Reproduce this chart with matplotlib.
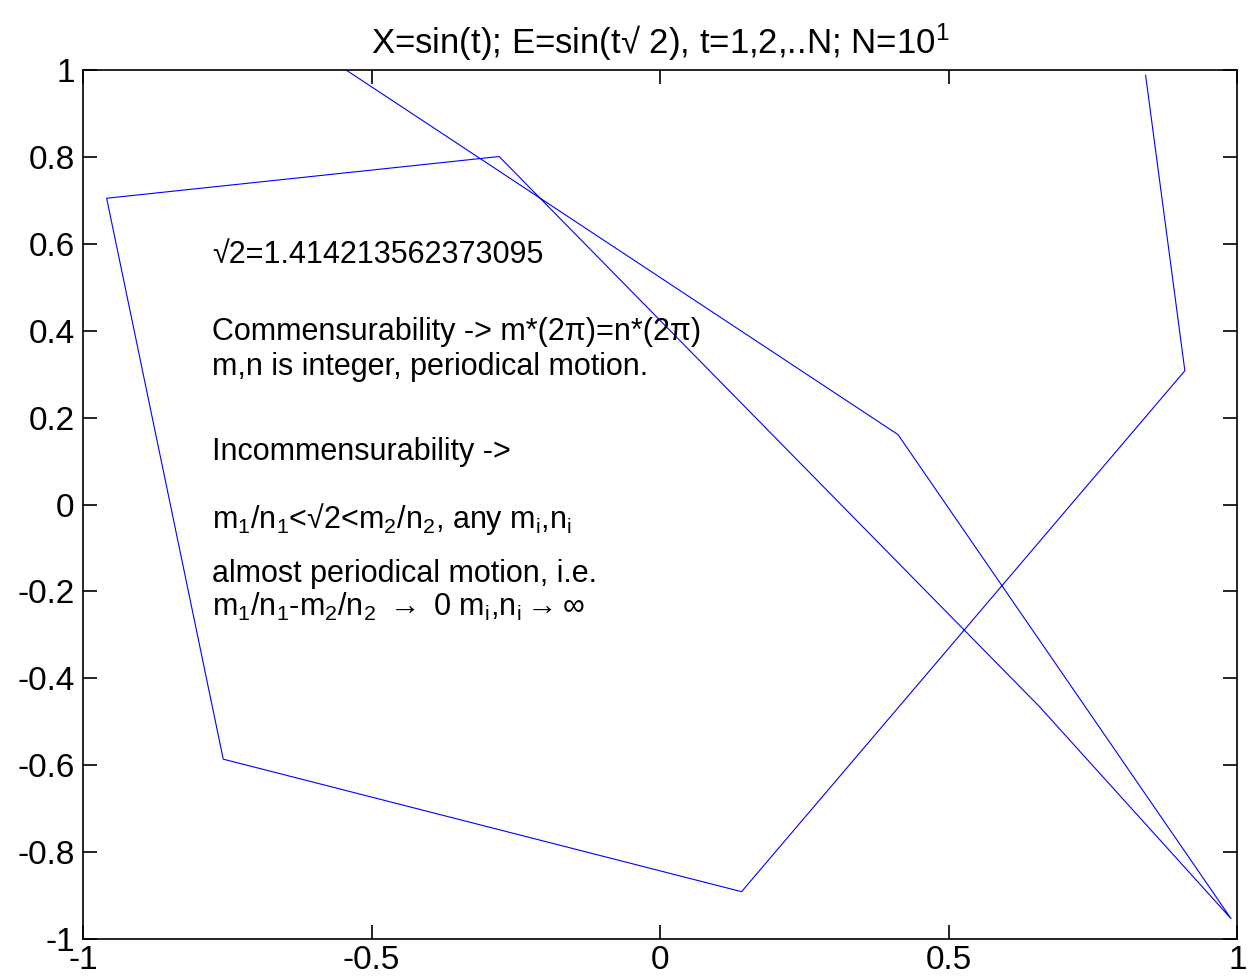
import matplotlib
matplotlib.use("Agg")
import matplotlib.pyplot as plt
from matplotlib.ticker import FixedLocator, FormatStrFormatter

plt.rcParams['font.family'] = ['Liberation Sans', 'DejaVu Sans']
plt.rcParams['mathtext.fontset'] = 'custom'
plt.rcParams['mathtext.rm'] = 'Liberation Sans'
plt.rcParams['mathtext.it'] = 'Liberation Sans'
plt.rcParams['axes.unicode_minus'] = False

# values, t = 1..10
x_vals = [0.841, 0.909, 0.141, -0.757, -0.959, -0.279, 0.657, 0.989, 0.412, -0.544]
e_vals = [0.988, 0.308, -0.891, -0.586, 0.705, 0.801, -0.465, -0.953, 0.161, 1.000]

x_ticks = [-1, -0.5, 0, 0.5, 1]
y_ticks = [-1, -0.8, -0.6, -0.4, -0.2, 0, 0.2, 0.4, 0.6, 0.8, 1]

title = r'X=sin(t); E=sin(t√ 2), t=1,2,..N; N=10$^1$'
notes = [
    (0.556, '√2=1.414213562373095'),
    (0.379, 'Commensurability -> m*(2π)=n*(2π)'),
    (0.299, 'm,n is integer, periodical motion.'),
    (0.103, 'Incommensurability ->'),
    (-0.053, r'm$_1$/n$_1$<√2<m$_2$/n$_2$, any m$_i$,n$_i$'),
    (-0.179, 'almost periodical motion, i.e.'),
    (-0.257, r'm$_1$/n$_1$-m$_2$/n$_2$ $\rightarrow$ 0 m$_i$,n$_i$$\rightarrow$∞'),
]

fig = plt.figure(figsize=(12.48, 9.8), dpi=100)
ax = fig.add_axes([0.0665, 0.0418, 0.925, 0.8867])
ax.plot(x_vals, e_vals, color='b', lw=0.8)
ax.set_xlim(-1, 1)
ax.set_ylim(-1, 1)
ax.xaxis.set_major_locator(FixedLocator(x_ticks))
ax.yaxis.set_major_locator(FixedLocator(y_ticks))
ax.xaxis.set_major_formatter(FormatStrFormatter('%g'))
ax.yaxis.set_major_formatter(FormatStrFormatter('%g'))
ax.tick_params(direction='in', top=True, right=True, length=10, width=1.2, pad=6)
ax.tick_params(axis='y', labelsize=24)
ax.tick_params(axis='x', labelsize=24, pad=4)
for s in ax.spines.values():
    s.set_linewidth(1.2)
ax.set_title(title, fontsize=25, pad=12)

for y, s in notes:
    ax.text(-0.776, y, s, fontsize=22, va='baseline', ha='left')

fig.savefig('out.png', dpi=100)
